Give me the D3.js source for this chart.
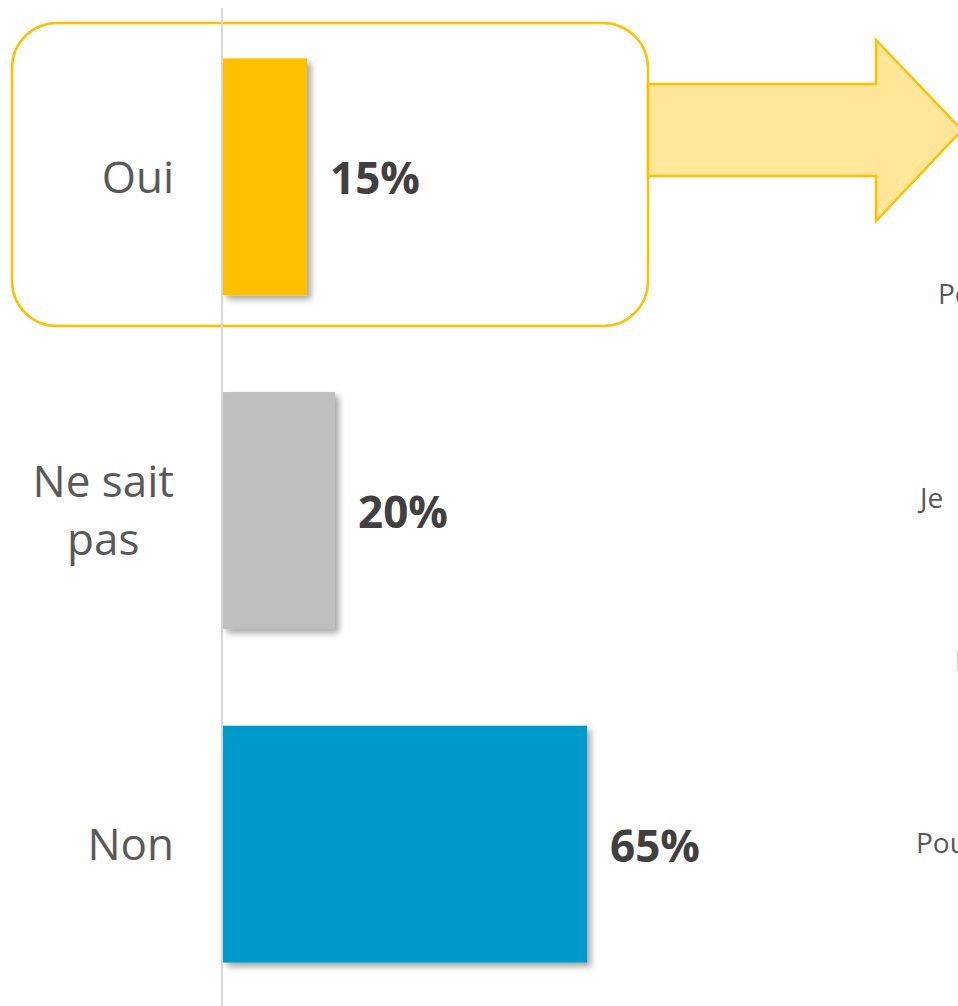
<!DOCTYPE html>
<html>
<head>
<meta charset="utf-8">
<script src="https://cdn.jsdelivr.net/npm/d3@7"></script>
<style>
  body { margin: 0; background: #fff; overflow: hidden; }
  svg { display: block; font-family: "Open Sans", "Noto Sans", sans-serif; }
</style>
</head>
<body>
<svg id="chart" width="958" height="1006"></svg>
<script>
// data
var categories = ["Oui", "Ne sait pas", "Non"];
var labelLines = [["Oui"], ["Ne sait", "pas"], ["Non"]];
var values = [15, 20, 65];
var barColors = ["#FFC000", "#BFBFBF", "#0099CC"];
// partial texts of the next panel, cut by the right edge
var sideTexts = ["Po", "Je", "I", "Pou"];
var sideX = [938, 920, 955, 916];
var sideY = [304, 508, 671, 853];

var svg = d3.select("#chart");
var width = 958, height = 1006;

var defs = svg.append("defs");
var shadow = defs.append("filter")
    .attr("id", "shadow")
    .attr("x", "-20%").attr("y", "-20%")
    .attr("width", "150%").attr("height", "150%");
shadow.append("feDropShadow")
    .attr("dx", 4).attr("dy", 4)
    .attr("stdDeviation", 3)
    .attr("flood-color", "#000")
    .attr("flood-opacity", 0.35);

// scales
var x = d3.scaleLinear()
    .domain([0, 100])
    .range([223, 783]);

var y = d3.scaleBand()
    .domain(categories)
    .range([10, 1011])
    .paddingInner(0.29)
    .paddingOuter(0.145);

// highlight box around "Oui"
svg.append("rect")
    .attr("x", 12)
    .attr("y", 23)
    .attr("width", 636)
    .attr("height", 303)
    .attr("rx", 45)
    .attr("fill", "none")
    .attr("stroke", "#FFC000")
    .attr("stroke-width", 2.5);

// arrow
var arrow = d3.path();
arrow.moveTo(648, 84);
arrow.lineTo(876, 84);
arrow.lineTo(876, 40);
arrow.lineTo(962, 130);
arrow.lineTo(876, 221);
arrow.lineTo(876, 176);
arrow.lineTo(648, 176);
arrow.closePath();
svg.append("path")
    .attr("d", arrow.toString())
    .attr("fill", "#FFE699")
    .attr("stroke", "#FFC000")
    .attr("stroke-width", 2.5)
    .attr("stroke-linejoin", "miter");

// vertical axis line
svg.append("line")
    .attr("x1", 222).attr("x2", 222)
    .attr("y1", 8).attr("y2", height)
    .attr("stroke", "#D9D9D9")
    .attr("stroke-width", 2);

// bars
svg.append("g")
    .selectAll("rect")
    .data(categories)
    .join("rect")
        .attr("x", x(0))
        .attr("y", d => y(d))
        .attr("width", (d, i) => x(values[i]) - x(0))
        .attr("height", y.bandwidth())
        .attr("fill", (d, i) => barColors[i])
        .attr("filter", "url(#shadow)");

// value labels
svg.append("g")
    .selectAll("text")
    .data(categories)
    .join("text")
        .attr("x", (d, i) => x(values[i]) + 23)
        .attr("y", d => y(d) + y.bandwidth() / 2)
        .attr("dy", "0.4em")
        .attr("font-size", 44)
        .attr("font-weight", "bold")
        .attr("fill", "#404040")
        .text((d, i) => values[i] + "%");

// category labels: block right aligned at 174, lines centred inside the block
var catGroup = svg.append("g");
categories.forEach(function(c, i) {
    var lines = labelLines[i];
    var cy = y(c) + y.bandwidth() / 2;
    var lineH = 58;
    var t = catGroup.append("text")
        .attr("font-size", 44)
        .attr("fill", "#595959")
        .attr("text-anchor", "middle");
    var spans = lines.map(function(l, j) {
        return t.append("tspan")
            .attr("y", cy + (j - (lines.length - 1) / 2) * lineH)
            .attr("dy", "0.36em")
            .text(l);
    });
    var maxW = d3.max(spans, s => s.node().getComputedTextLength());
    spans.forEach(s => s.attr("x", 174 - maxW / 2));
});

// cut-off texts on the right edge
svg.append("g")
    .selectAll("text")
    .data(sideTexts)
    .join("text")
        .attr("x", (d, i) => sideX[i])
        .attr("y", (d, i) => sideY[i])
        .attr("font-size", 28)
        .attr("fill", "#595959")
        .text(d => d);
</script>
</body>
</html>
